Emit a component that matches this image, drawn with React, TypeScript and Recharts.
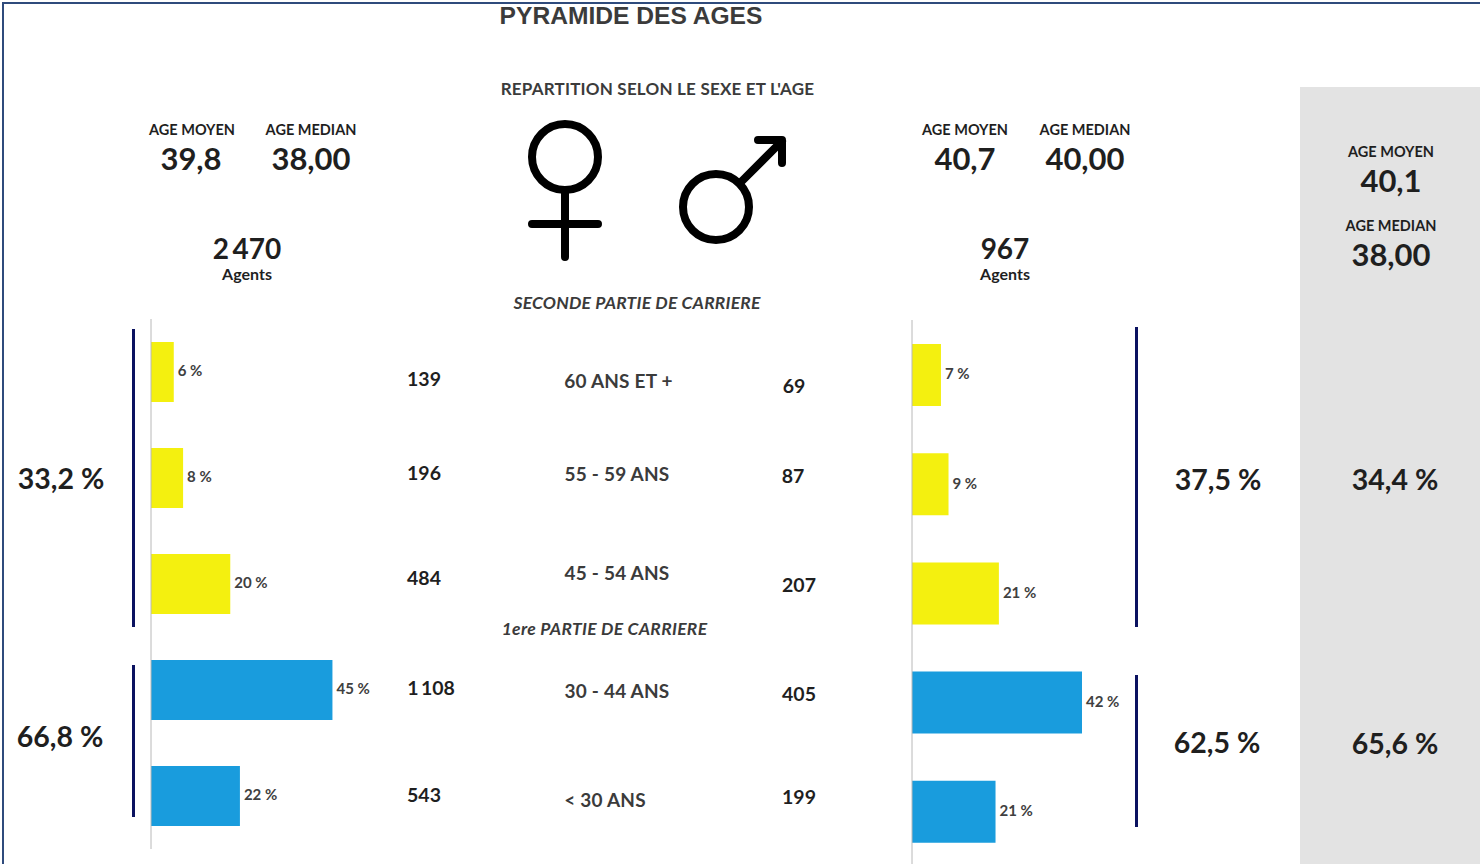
import React from 'react';
import { BarChart, Bar, XAxis, YAxis, Cell, LabelList } from 'recharts';

const ageBands = ['60 ANS ET +', '55 - 59 ANS', '45 - 54 ANS', '30 - 44 ANS', '< 30 ANS'];
const womenCounts = [139, 196, 484, 1108, 543];
const menCounts = [69, 87, 207, 405, 199];
const womenPct = ['6 %', '8 %', '20 %', '45 %', '22 %'];
const menPct = ['7 %', '9 %', '21 %', '42 %', '21 %'];
const barColors = ['#f4f00f', '#f4f00f', '#f4f00f', '#199cdd', '#199cdd'];

const womenRows = ageBands.map((band, i) => ({ band, count: womenCounts[i], pct: womenPct[i] }));
const menRows = ageBands.map((band, i) => ({ band, count: menCounts[i], pct: menPct[i] }));

const FONT = 'Lato, sans-serif';

function T({ x, y, size, weight = 700, color = '#1f1f1f', italic = false, family = FONT, spacing = 0, children }: any) {
  return (
    <div
      style={{
        position: 'absolute',
        left: x,
        top: y,
        transform: 'translate(-50%, -50%)',
        fontFamily: family,
        fontSize: size,
        fontWeight: weight,
        fontStyle: italic ? 'italic' : 'normal',
        letterSpacing: spacing,
        color,
        whiteSpace: 'nowrap',
        lineHeight: 1,
      }}
    >
      {children}
    </div>
  );
}

function VRule({ x, top, bottom, width = 3 }: any) {
  return <div style={{ position: 'absolute', left: x, top, width, height: bottom - top, background: '#0b1260' }} />;
}

function Pyramid({ rows, left, top, height, barSize, domainMax }: any) {
  return (
    <div style={{ position: 'absolute', left, top }}>
      <BarChart width={320} height={height} data={rows} layout="vertical" margin={{ top: 0, right: 0, bottom: 0, left: 0 }}>
        <XAxis type="number" domain={[0, domainMax]} hide />
        <YAxis type="category" dataKey="band" width={1} tick={false} tickLine={false} axisLine={{ stroke: '#b8b8b8', strokeWidth: 1 }} />
        <Bar dataKey="count" barSize={barSize} isAnimationActive={false}>
          {rows.map((r: any, i: number) => (
            <Cell key={r.band} fill={barColors[i]} />
          ))}
          <LabelList dataKey="pct" position="right" offset={4} dy={-1} fill="#404040" fontSize={15} fontWeight={700} fontFamily={FONT} />
        </Bar>
      </BarChart>
    </div>
  );
}

export default function App() {
  return (
    <div style={{ position: 'fixed', left: 0, top: 0, width: 1480, height: 864, overflow: 'hidden', background: '#fff' }}>
      <div style={{ position: 'absolute', left: 2, top: 2, width: 1478, height: 2, background: '#2f4b7c' }} />
      <div style={{ position: 'absolute', left: 2, top: 2, width: 2, height: 862, background: '#2f4b7c' }} />
      <div style={{ position: 'absolute', left: 1300, top: 87, width: 180, height: 777, background: '#e3e3e3' }} />

      <T x={631} y={16} size={24.6} family="'Liberation Sans', sans-serif" color="#3b3b3b">PYRAMIDE DES AGES</T>
      <T x={657.5} y={88} size={17} spacing={0.2} color="#3b3b3b">REPARTITION SELON LE SEXE ET L'AGE</T>
      <T x={637} y={303} size={17.5} spacing={0.2} italic color="#3b3b3b">SECONDE PARTIE DE CARRIERE</T>
      <T x={604.5} y={629} size={17.5} spacing={0.3} italic color="#3b3b3b">1ere PARTIE DE CARRIERE</T>

      <T x={192} y={130} size={14.5}>AGE MOYEN</T>
      <T x={311} y={130} size={14.5}>AGE MEDIAN</T>
      <T x={191} y={157.5} size={31}>39,8</T>
      <T x={311} y={157.5} size={31}>38,00</T>
      <T x={247} y={248} size={28}>2{'\u2009'}470</T>
      <T x={247} y={274} size={16}>Agents</T>

      <T x={965} y={130} size={14.5}>AGE MOYEN</T>
      <T x={1085} y={130} size={14.5}>AGE MEDIAN</T>
      <T x={965} y={157.5} size={31}>40,7</T>
      <T x={1085} y={157.5} size={31}>40,00</T>
      <T x={1005} y={248} size={28}>967</T>
      <T x={1005} y={274} size={16}>Agents</T>

      <T x={1391} y={152} size={14.5}>AGE MOYEN</T>
      <T x={1391} y={179.5} size={31}>40,1</T>
      <T x={1391} y={226} size={14.5}>AGE MEDIAN</T>
      <T x={1391} y={253.5} size={31}>38,00</T>

      <svg width={300} height={160} style={{ position: 'absolute', left: 500, top: 110 }} fill="none" stroke="#000" strokeWidth={8} strokeLinecap="round" strokeLinejoin="round">
        <circle cx={65} cy={47} r={33} />
        <path d="M65 80 V147 M32 114 H98" />
        <circle cx={216} cy={97} r={33} />
        <path d="M240 73 L282 31 M258 30 H282 V53" />
      </svg>

      <VRule x={132} top={329} bottom={627} />
      <VRule x={132} top={665} bottom={817} />
      <VRule x={1135} top={327} bottom={627} />
      <VRule x={1135} top={675} bottom={827} />

      <Pyramid rows={womenRows} left={150} top={319} height={530} barSize={60} domainMax={1948} />
      <Pyramid rows={menRows} left={911} top={320} height={546} barSize={62} domainMax={760} />

      <T x={424} y={378.5} size={19.5}>{womenCounts[0]}</T>
      <T x={424} y={472.5} size={19.5}>{womenCounts[1]}</T>
      <T x={424} y={577.5} size={19.5}>{womenCounts[2]}</T>
      <T x={431} y={687.5} size={19.5}>1{'\u2009'}108</T>
      <T x={424} y={794.5} size={19.5}>{womenCounts[4]}</T>

      <T x={618.5} y={380} size={19} spacing={0.2} color="#3b3b3b">{ageBands[0]}</T>
      <T x={617} y={473} size={19} spacing={0.2} color="#3b3b3b">{ageBands[1]}</T>
      <T x={617} y={572} size={19} spacing={0.2} color="#3b3b3b">{ageBands[2]}</T>
      <T x={617} y={690} size={19} spacing={0.2} color="#3b3b3b">{ageBands[3]}</T>
      <T x={605} y={799} size={19} spacing={0.2} color="#3b3b3b">{ageBands[4]}</T>

      <T x={794} y={385.5} size={19.5}>{menCounts[0]}</T>
      <T x={793} y={475.5} size={19.5}>{menCounts[1]}</T>
      <T x={799} y={584.5} size={19.5}>{menCounts[2]}</T>
      <T x={799} y={693.5} size={19.5}>{menCounts[3]}</T>
      <T x={799} y={796.5} size={19.5}>{menCounts[4]}</T>

      <T x={61} y={477.5} size={28.5}>33,2 %</T>
      <T x={60} y={735.5} size={28.5}>66,8 %</T>
      <T x={1218} y={478.5} size={28.5}>37,5 %</T>
      <T x={1217} y={741.5} size={28.5}>62,5 %</T>
      <T x={1395} y={478.5} size={28.5}>34,4 %</T>
      <T x={1395} y={742.5} size={28.5}>65,6 %</T>
    </div>
  );
}
